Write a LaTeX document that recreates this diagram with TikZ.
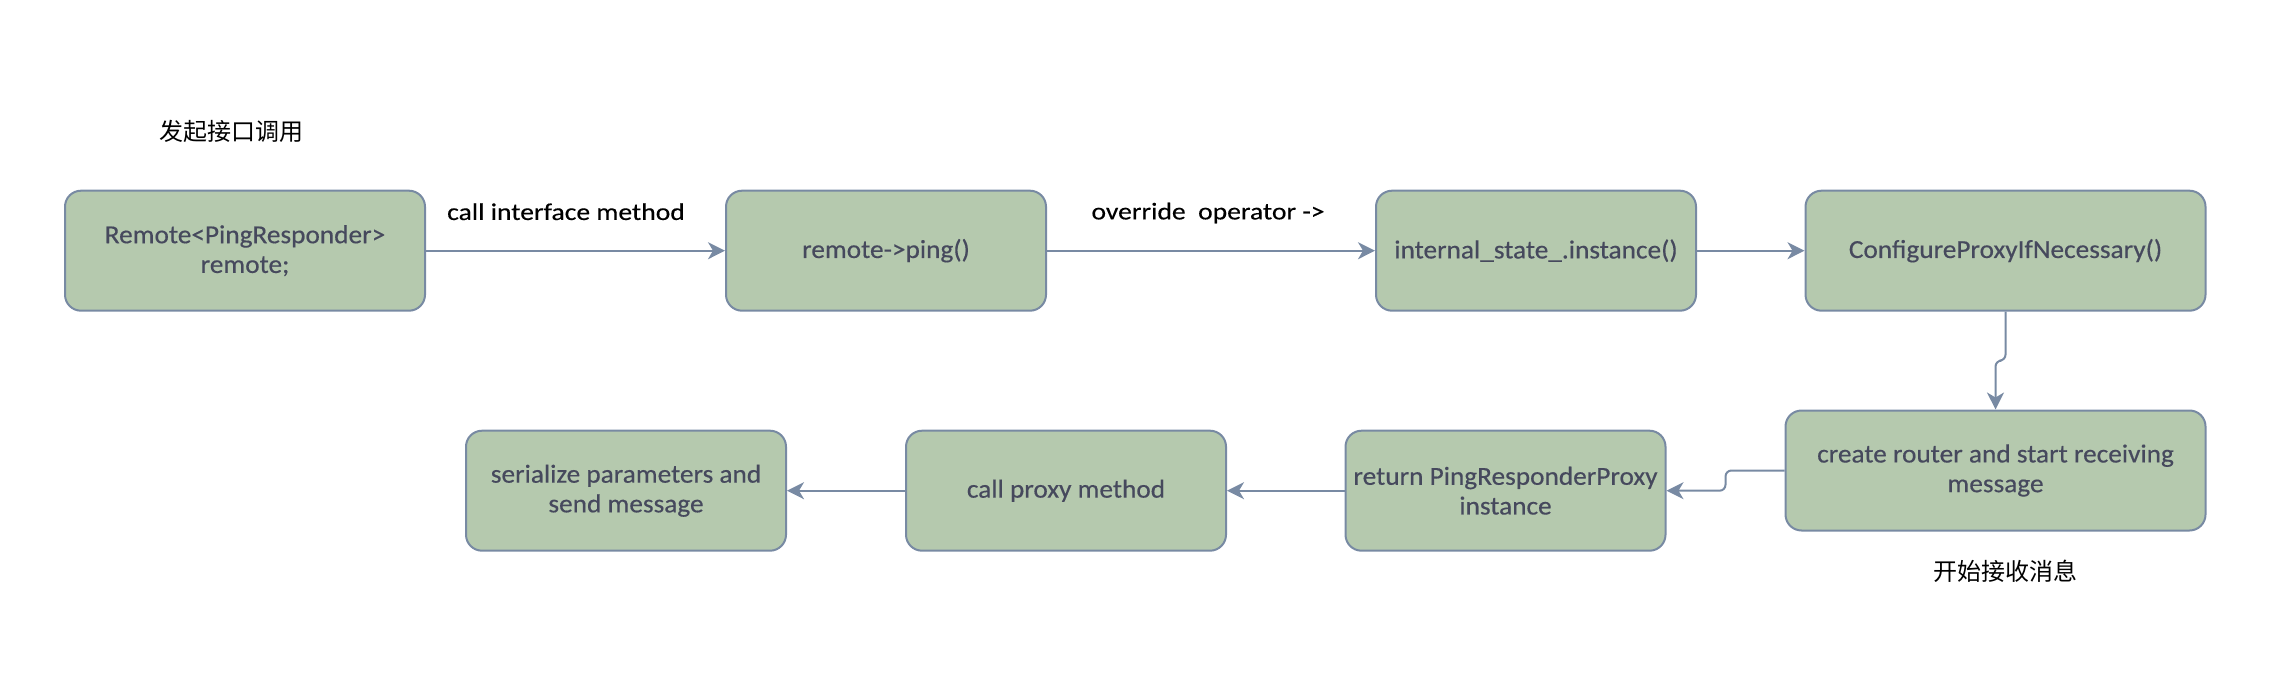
\documentclass[tikz,border=0pt]{standalone}
\usepackage{fontspec}
\setmainfont{Carlito}
\newfontfamily\boxfont[FakeStretch=1.05,FakeBold=0.4]{Carlito}
\newfontfamily\lblfont[FakeStretch=1.15,FakeBold=0.3]{Carlito}
\newfontfamily\cjk{Noto Sans CJK SC}
\usetikzlibrary{arrows.meta}
\definecolor{sagefill}{HTML}{B5C9AE}
\definecolor{sagestroke}{HTML}{788AA3}
\definecolor{sagefont}{HTML}{46495D}
\tikzset{
  box/.style={draw=sagestroke, fill=sagefill, line width=2pt, rounded corners=16pt,
    minimum height=120pt, text=sagefont, align=center, inner sep=0pt,
    font=\boxfont\fontsize{26}{29.7}\selectfont},
  conn/.style={draw=sagestroke, line width=2pt, rounded corners=6pt,
    -{Stealth[length=17pt,width=17pt,inset=5pt]}},
  lbl/.style={font=\lblfont\fontsize{24}{28}\selectfont, text=black, inner sep=0pt},
  cjklbl/.style={font=\cjk\fontsize{24}{28}\selectfont, text=black, inner sep=0pt},
}
\begin{document}
\begin{tikzpicture}[x=1pt,y=-1pt]
\useasboundingbox (0,0) rectangle (2274,698);
% boxes
\node[box, minimum width=360pt] (b1) at (245,250.7) {Remote<PingResponder>\\remote;};
\node[box, minimum width=320pt] (b2) at (886,250.7) {remote->ping()};
\node[box, minimum width=320pt] (b3) at (1536,250.7) {internal\_state\_.instance()};
\node[box, minimum width=400pt] (b4) at (2005.5,250.7) {ConfigureProxyIfNecessary()};
\node[box, minimum width=420pt] (b5) at (1995.5,470.5) {create router and start receiving\\message};
\node[box, minimum width=320pt] (b6) at (1505.5,490.7) {return PingResponderProxy\\instance};
\node[box, minimum width=320pt] (b7) at (1066,490.7) {call proxy method};
\node[box, minimum width=320pt] (b8) at (626,490.7) {serialize parameters and\\send message};
% labels
\node[cjklbl] (t1) at (231,131.7) {发起接口调用};
\node[lbl] (l1) at (566,211.7) {call interface method};
\node[lbl] (l2) at (1208,213) {override\ \ operator ->};
\node[cjklbl] (t2) at (2005,571.7) {开始接收消息};
% connectors
\draw[conn] (b1) -- (b2);
\draw[conn] (b2) -- (b3);
\draw[conn] (b3) -- (b4);
\path (b4.south) -- (b5.north) coordinate[midway] (m1);
\draw[conn] (b4.south) -- (b4.south |- m1) -- (b5.north |- m1) -- (b5.north);
\path (b5.west) -- (b6.east) coordinate[midway] (m2);
\draw[conn] (b5.west) -- (b5.west -| m2) -- (b6.east -| m2) -- (b6.east);
\draw[conn] (b6) -- (b7);
\draw[conn] (b7) -- (b8);
\end{tikzpicture}
\end{document}
